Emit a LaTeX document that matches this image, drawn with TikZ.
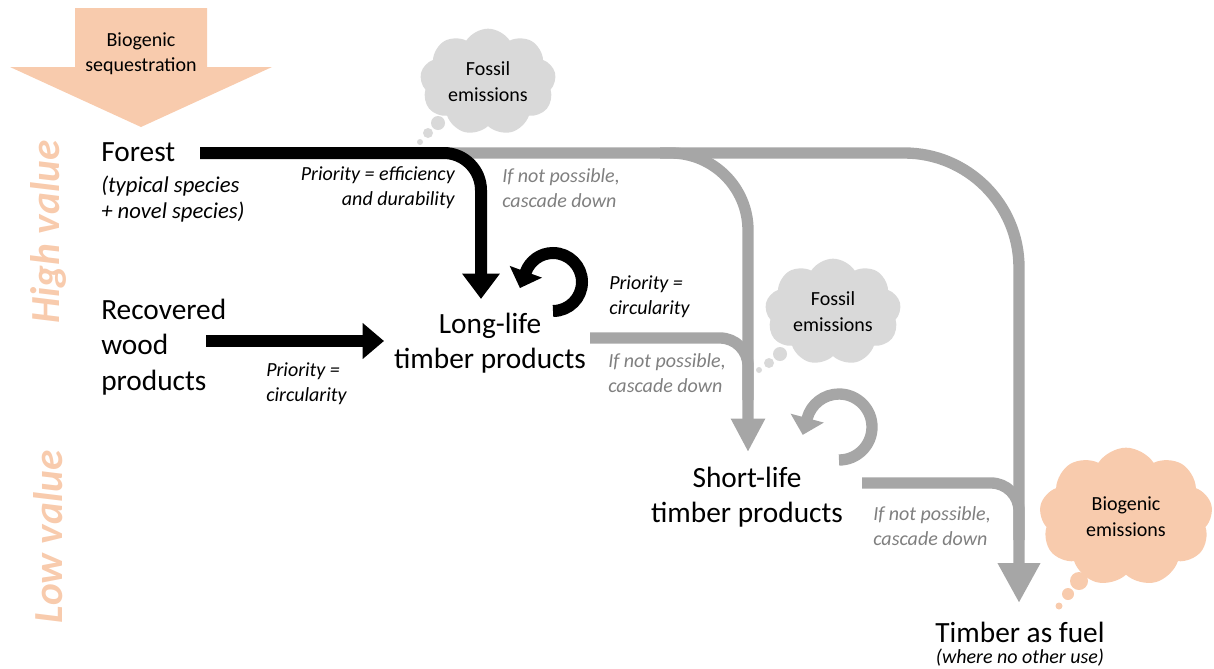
\documentclass[tikz,border=0pt]{standalone}
\usepackage{fontspec}
\setmainfont{Carlito}
\usetikzlibrary{arrows.meta,shapes.symbols,positioning}
\definecolor{peach}{HTML}{F8CBAD}
\definecolor{flowgrey}{HTML}{A6A6A6}
\definecolor{notegrey}{HTML}{7F7F7F}
\definecolor{cloudgrey}{HTML}{D9D9D9}
\tikzset{
  big/.style={font=\fontsize{22}{26.5}\selectfont, inner sep=0pt},
  note/.style={font=\fontsize{15}{18.75}\selectfont\itshape, inner sep=0pt},
  cascade/.style={note, text=notegrey, align=left, anchor=west},
  side/.style={font=\fontsize{31}{36}\selectfont\bfseries\itshape, text=peach, rotate=90, inner sep=0pt},
  blk/.style={line width=9pt, black},
  gry/.style={line width=8.5pt, flowgrey},
  puff/.style={cloud, cloud puffs=9, cloud puff arc=115, aspect=1.3, draw=none,
    minimum width=102pt, minimum height=80pt, inner sep=0pt,
    font=\fontsize{15}{19.5}\selectfont, align=center}
}
\begin{document}
\begin{tikzpicture}[x=0.75pt,y=0.75pt]
  \useasboundingbox (0,0) rectangle (1214,-668);
  \node[side] (high) at (48,-232) {High value};
  \node[side] (low) at (48,-537) {Low value};
  \fill[peach] (75,-8) -- (207,-8) -- (207,-67) -- (272,-67) -- (141,-127) -- (10,-67) -- (75,-67) -- cycle;
  \node[font=\fontsize{15}{18.75}\selectfont, align=center] (seq) at (141,-54) {Biogenic\\sequestration};
  % clouds
  \node[puff, fill=cloudgrey] (fossila) at (488,-82) {Fossil\\emissions};
  \node[puff, fill=cloudgrey] (fossilb) at (833,-312) {Fossil\\emissions};
  \node[puff, fill=peach, minimum width=130pt, minimum height=104pt] (biogen) at (1126,-517) {Biogenic\\emissions};
  \foreach \bx/\by/\br in {438/-123/7, 428/-133/5, 420/-142/3, 780/-354/7, 769/-363/5, 759/-370/3}
    { \fill[cloudgrey] (\bx,\by) circle[radius=\br]; }
  \foreach \bx/\by/\br in {1079/-581/9, 1068/-594/6, 1059/-606/3.5}
    { \fill[peach] (\bx,\by) circle[radius=\br]; }
  % products
  \node[big, anchor=west] (forest) at (101,-152) {Forest};
  \node[note, font=\fontsize{17}{19.5}\selectfont\itshape, align=left, anchor=west] (species) at (101,-199) {(typical species\\+ novel species)};
  \node[big, align=left, anchor=west] (recov) at (101,-347) {Recovered\\wood\\products};
  \node[big, align=center] (longlife) at (490,-343) {Long-life\\timber products};
  \node[big, align=center] (shortlife) at (747,-497) {Short-life\\timber products};
  \node[big] (fuel) at (1020,-632) {Timber as fuel};
  \node[note] (fuelnote) at (1020,-658) {(where no other use)};
  % labels
  \node[note, align=right, anchor=east] (prioa) at (455,-188) {Priority = efficiency\\and durability};
  \node[note, align=left, anchor=west] (priob) at (266,-384) {Priority =\\circularity};
  \node[note, align=left, anchor=west] (prioc) at (609,-297) {Priority =\\circularity};
  \node[cascade] (cascadea) at (502,-188) {If not possible,\\cascade down};
  \node[cascade] (cascadeb) at (608,-373) {If not possible,\\cascade down};
  \node[cascade] (cascadec) at (873,-526) {If not possible,\\cascade down};
  % ports
  \coordinate (forestout) at (200,-153);
  \coordinate (greystart) at (440,-153);
  \coordinate (split) at (660,-153);
  \coordinate (recout) at (206,-341);
  \coordinate (llside) at (384,-341);
  \coordinate (lltop) at (481,-299);
  \coordinate (llout) at (590,-338);
  \coordinate (joina) at (748,-400);
  \coordinate (sltop) at (748,-452);
  \coordinate (slout) at (862,-483);
  \coordinate (joinb) at (1019,-540);
  \coordinate (fueltop) at (1019,-603);
  % grey cascade
  \draw[gry, rounded corners=86pt, -{Triangle[width=30pt,length=30pt]}] (greystart) -| (fueltop);
  \draw[gry, rounded corners=58pt, -{Triangle[width=24pt,length=25pt]}] (split) -| (sltop);
  \draw[gry, rounded corners=21pt] (llout) -| (joina);
  \draw[gry, rounded corners=21pt] (slout) -| (joinb);
  \draw[gry, -{Triangle[width=25pt,length=13pt]}] (839,-460) arc[start angle=-90, end angle=165, radius=33] -- ++(255:17);
  % black priority flows
  \draw[blk, rounded corners=28pt, -{Triangle[width=27pt,length=19pt]}] (forestout) -| (lltop);
  \draw[blk, -{Triangle[width=26pt,length=16pt]}] (recout) -- (llside);
  \draw[blk, -{Triangle[width=25pt,length=13pt]}] (553,-311) arc[start angle=-90, end angle=160, radius=29] -- ++(250:17);
\end{tikzpicture}
\end{document}
